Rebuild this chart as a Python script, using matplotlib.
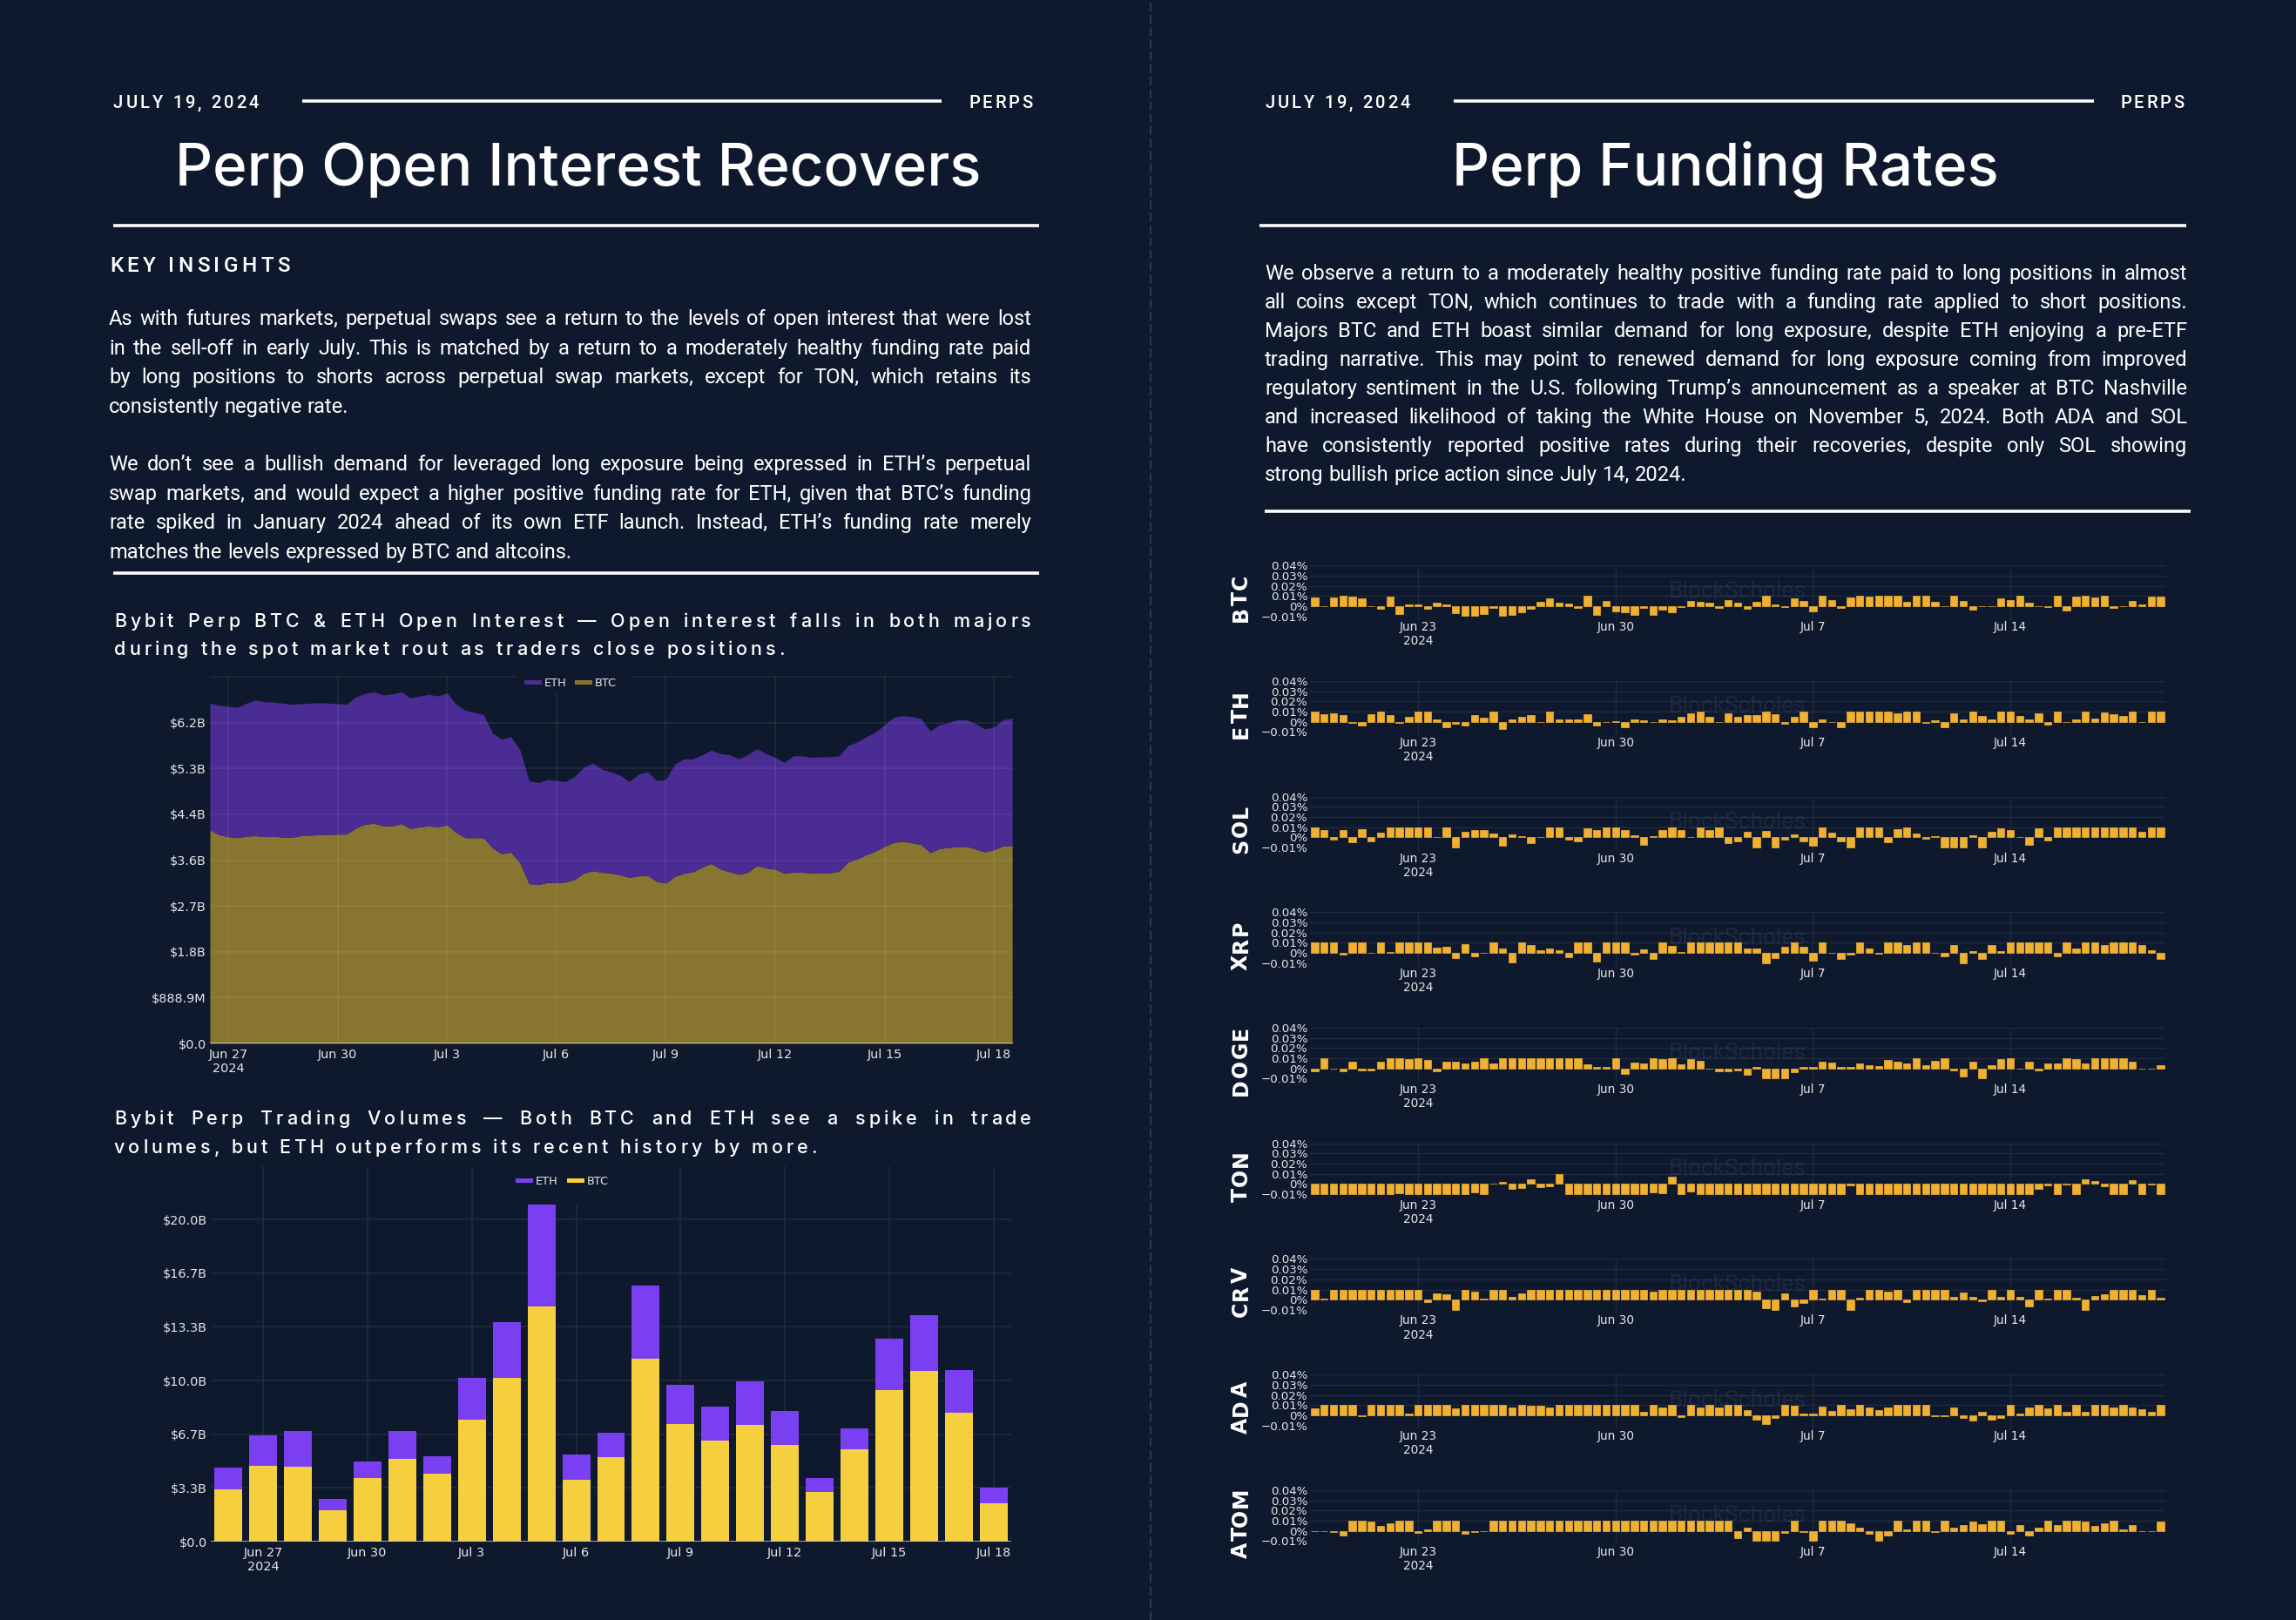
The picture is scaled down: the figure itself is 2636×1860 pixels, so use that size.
import matplotlib
matplotlib.use('Agg')
import matplotlib.pyplot as plt
from matplotlib import font_manager as fm
from matplotlib.font_manager import FontProperties
from matplotlib.patches import Rectangle
from matplotlib.lines import Line2D
import numpy as np
import pandas as pd

W, H, DPI = 2636, 1860, 100

# ---------------- DATA ----------------
# Bybit perp open interest (billions USD), 6-hourly from the start time
oi_start = "2024-06-26 12:00"
oi_step = "6h"
btc_oi_bn = [4.14, 4.05, 4.01, 3.99, 4.02, 4.03, 4.01, 4.02, 4.00, 4.00,
             4.03, 4.04, 4.05, 4.05, 4.06, 4.06, 4.18, 4.25, 4.27, 4.22,
             4.22, 4.26, 4.17, 4.20, 4.22, 4.20, 4.24, 4.09, 3.99, 3.99,
             3.99, 3.79, 3.68, 3.71, 3.50, 3.10, 3.08, 3.12, 3.12, 3.13,
             3.18, 3.30, 3.35, 3.32, 3.30, 3.27, 3.22, 3.25, 3.26, 3.14,
             3.11, 3.24, 3.30, 3.33, 3.42, 3.49, 3.38, 3.33, 3.28, 3.32,
             3.45, 3.40, 3.38, 3.30, 3.32, 3.32, 3.30, 3.31, 3.31, 3.34,
             3.52, 3.58, 3.66, 3.73, 3.82, 3.90, 3.92, 3.89, 3.86, 3.70,
             3.78, 3.80, 3.82, 3.82, 3.77, 3.71, 3.76, 3.83, 3.84]
eth_oi_bn = [2.46, 2.51, 2.53, 2.53, 2.58, 2.63, 2.62, 2.60, 2.60, 2.58,
             2.56, 2.56, 2.56, 2.55, 2.53, 2.52, 2.54, 2.54, 2.55, 2.54,
             2.56, 2.56, 2.53, 2.54, 2.55, 2.54, 2.56, 2.49, 2.47, 2.43,
             2.39, 2.23, 2.22, 2.24, 2.20, 2.00, 1.98, 2.00, 1.98, 1.95,
             2.00, 2.06, 2.09, 2.00, 1.97, 1.93, 1.86, 1.97, 2.01, 1.96,
             2.01, 2.18, 2.22, 2.19, 2.18, 2.20, 2.24, 2.27, 2.24, 2.28,
             2.27, 2.22, 2.17, 2.15, 2.26, 2.26, 2.25, 2.25, 2.25, 2.24,
             2.26, 2.27, 2.29, 2.31, 2.36, 2.43, 2.44, 2.45, 2.44, 2.36,
             2.40, 2.42, 2.46, 2.46, 2.43, 2.39, 2.38, 2.45, 2.47]

# Bybit perp daily trading volumes (billions USD)
vol_dates = ["2024-06-26", "2024-06-27", "2024-06-28", "2024-06-29", "2024-06-30",
             "2024-07-01", "2024-07-02", "2024-07-03", "2024-07-04", "2024-07-05",
             "2024-07-06", "2024-07-07", "2024-07-08", "2024-07-09", "2024-07-10",
             "2024-07-11", "2024-07-12", "2024-07-13", "2024-07-14", "2024-07-15",
             "2024-07-16", "2024-07-17", "2024-07-18"]
btc_vol_bn = [3.25, 4.69, 4.66, 1.93, 3.94, 5.16, 4.19, 7.55, 10.16, 14.58, 3.86, 5.27,
              11.34, 7.31, 6.28, 7.22, 5.99, 3.07, 5.74, 9.39, 10.61, 8.00, 2.38]
eth_vol_bn = [1.35, 1.90, 2.20, 0.72, 1.02, 1.70, 1.10, 2.59, 3.47, 6.39, 1.56, 1.50,
              4.58, 2.40, 2.08, 2.71, 2.10, 0.90, 1.30, 3.21, 3.47, 2.65, 0.96]

# Perp funding rates, 8-hourly, units of 0.001 %
fund_start = "2024-06-19 08:00"
fund_step = "8h"
coins = ["BTC", "ETH", "SOL", "XRP", "DOGE", "TON", "CRV", "ADA", "ATOM"]
fund_btc = [8.6, 0, 8.6, 10, 9.4, 7.5, 0, -3, 9, -8, 1.5, 1.5, -2.5, 3.5, 2, -6.5, -9.7, -9.7, -8, -2,
            -9.7, -9, -6, -2.5, 4.5, 8, 3.5, 2.3, -2, 10, -9, 5, -5, -6, -9, -1.5, -9, -3.5, -6, -0.5,
            5, 4.3, 3.5, -2, 5.7, 3.5, -3, 4.5, 10, 1.7, -1, 7.5, 5, -5, 10, 6, -2, 8.6, 10, 9.4,
            10, 10, 10, 4.3, 10, 10, 4.3, 0.3, 10, 5, -3.5, 0, 0, 8, 5.7, 10, 3, 0, -0.5, 10,
            -4, 9, 10, 8.6, 10, -2, 0.3, 5, 1.5, 9.4, 9.4]
fund_eth = [10, 7.5, 8, 6.5, -1, -4, 7.5, 10, 7, -1, 5, 10, 10, 2, -5.5, -2, -4, 6.5, 3.7, 10,
            -7.5, 2.3, 4.5, 6.5, 0, 10, 2, 2, 2.3, 7.5, -4, 0, 1, -5.5, 2.5, 1.2, 0, 2, 1.2, 5,
            8.5, 10, 5, 0, 8, 4.5, 7, 7, 10, 7.5, -1.7, 5, 10, -5, 2, -0.5, -5, 10, 10, 10,
            10, 10, 8.5, 10, 10, -1, 1.2, -5, 8, 2, 10, 5.5, 2, 10, 10, 5.5, 2, 8, -3, 10,
            -0.5, 2, 10, 3, 9, 7.5, 6, 10, 0, 10, 10]
fund_sol = [10, 7, -2.3, 7.5, -4.5, 8, -4, 4.5, 10, 10, 10, 10, 10, 0, 10, -9.7, 5.5, 7, 7, 3.5,
            -8, 2.5, 1.2, -6, 0, 10, 10, -2.3, -4, 9, 7.5, 10, 10, 7, 2, -7, 1.2, 7, 10, 7,
            0, 10, 7.5, 10, -6, -4, 5.5, -9.7, 6, -9.7, -2.5, 2.5, -4, -8.5, 10, 4.5, -4, -9.7, 10, 10,
            10, -5, 8, 10, 3.5, -1, 1, -9.7, -9.7, -9.7, 1.7, -9.7, 5.5, 8.5, 7, 0, -7.5, 9, -3, 10,
            10, 10, 10, 10, 10, 10, 10, 10, 5.5, 10, 10]
fund_xrp = [10, 10, 10, -2, 10, 10, 0, 10, 1, 10, 10, 10, 10, 5, 6, -5, 9, -3.3, 0, 10,
            4.7, -9, 10, 7.5, 2.6, 4.5, 2.6, -4, 10, 10, -8.5, 10, 10, 10, -2, 3.8, -6, 10, 6.8, 1.2,
            10, 10, 10, 10, 10, 10, 4.5, 4.5, -10, -5, 6, 10, 6, -8, 10, 0.5, -5.5, -2, 10, 4.5,
            -1, 10, 10, 7.5, 10, 10, 0.5, -3.3, 7.5, -10, 2, -6, 7.5, 2, 10, 10, 10, 10, 10, -3.3,
            10, 4, 10, 10, 7.5, 10, 10, 10, 7.5, 2.6, -6]
fund_doge = [-3, 10, 0, -3, 7, -1.5, -1.5, 6.5, 10, 10, 9, 10, 8, -3, 7, 6.5, 5.3, 7, 10, 5.3,
             10, 10, 10, 10, 10, 10, 10, 10, 10, 4, 1.7, 1.7, 10, -5.3, 6, 4.7, 10, 9, 10, 4,
             9, 7.6, -0.6, -3, -3, -1.5, -6, 1.7, -10, -10, -10, -4, 1.2, 1.7, 6.5, 6, 1.7, 1.7, 4.7, 3,
             2.4, 8, 7, 4.7, 10, 3, 7.6, 10, -1.8, -8, 6.5, -10, 3, 9, 10, 0, 7, -1.8, 5.3, 5.3,
             10, 9, 5.3, 10, 10, 10, 10, 6.5, 0, 0, 3]
fund_ton = [-10, -10, -10, -10, -10, -10, -10, -10, -10, -9, -10, -10, -10, -10, -10, -10, -10, -8, -10, 0.5,
            2, -5, -4, 5, -3, -2, 10, -10, -10, -10, -10, -10, -10, -10, -10, -10, -8, -9, 7, -10,
            -7, -10, -10, -10, -10, -10, -10, -10, -10, -10, -10, -10, -10, -10, -10, -10, -10, -1, -10, -10,
            -10, -10, -10, -10, -10, -10, -10, -10, -10, -10, -10, -10, -10, -10, -10, -10, -10, -4.5, -1.5, -10,
            -0.7, -10, 5, 3.3, -2, -10, -10, 4, -10, -0.3, -10]
fund_crv = [10, 1, 10, 10, 10, 10, 10, 10, 10, 10, 10, 10, -2, 6, 5, -9.7, 10, 8, 1, 10,
            10, 2.5, 6, 10, 10, 10, 10, 10, 10, 10, 10, 10, 10, 10, 10, 10, 8, 10, 10, 10,
            10, 10, 10, 10, 10, 10, 10, 8, -8, -9.7, 6, -7, -3.5, 10, 1, 10, 10, -9.7, 2, 10,
            10, 8, 10, -2, 10, 10, 10, 10, 2.5, 7, 2.5, -1.2, 10, 2.5, 10, 2.5, -7, 10, 1.2, 10,
            10, 2, -9.7, 3.5, 5, 10, 10, 10, 4.5, 10, 2]
fund_ada = [6.5, 10, 10, 10, 10, -1.2, 10, 10, 10, 10, 1.2, 10, 10, 10, 10, 6.5, 10, 10, 10, 10,
            10, 7.5, 10, 9, 9, 8, 10, 10, 10, 10, 10, 10, 10, 10, 10, 3, 10, 8, 10, -1.5,
            10, 8, 10, 8, 10, 10, 5, -4, -9, -3, 10, 9, 1.2, 1.2, 8.5, 4.2, 10, 6, 10, 8,
            5, 8, 10, 10, 10, 10, -1.2, -1.2, 8, -2.5, -5, 3.5, -4, -2.5, 10, 1.2, 8, 10, 6.5, 10,
            3.5, 10, 3.5, 10, 10, 8, 10, 8, 6, 3, 10]
fund_atom = [0, 0, -1, -5, 10, 10, 9, 5, 7, 10, 10, -2, 1.5, 10, 10, 10, -3.3, -1.5, 0, 10,
             10, 10, 10, 10, 10, 10, 10, 10, 10, 10, 10, 10, 10, 10, 10, 10, 10, 10, 10, 10,
             10, 10, 10, 10, 10, -7, 3.3, -9.5, -9.5, -9.5, -2, 10, -1, -9.5, 10, 10, 10, 7.5, 3.5, -3.3,
             -9.5, -5, 10, 1.5, 10, 10, -1.2, 10, 2.7, 6, 9, 6.5, 10, 10, -2.7, 5.5, -4.5, 2.7, 10, 6,
             10, 10, 9, 5, 7, 10, 1.5, 6, 0, 0, 9]
fund_rates = dict(zip(coins, [fund_btc, fund_eth, fund_sol, fund_xrp, fund_doge,
                              fund_ton, fund_crv, fund_ada, fund_atom]))

# ---------------- TEXT ----------------
date_text = "JULY 19, 2024"
section_text = "PERPS"
title_left = "Perp Open Interest Recovers"
title_right = "Perp Funding Rates"
key_insights = "KEY INSIGHTS"
para_left_1 = [
    "As with futures markets, perpetual swaps see a return to the levels of open interest that were lost",
    "in the sell-off in early July. This is matched by a return to a moderately healthy funding rate paid",
    "by long positions to shorts across perpetual swap markets, except for TON, which retains its",
    "consistently negative rate.",
]
para_left_2 = [
    "We don\u2019t see a bullish demand for leveraged long exposure being expressed in ETH\u2019s perpetual",
    "swap markets, and would expect a higher positive funding rate for ETH, given that BTC\u2019s funding",
    "rate spiked in January 2024 ahead of its own ETF launch. Instead, ETH\u2019s funding rate merely",
    "matches the levels expressed by BTC and altcoins.",
]
para_right = [
    "We observe a return to a moderately healthy positive funding rate paid to long positions in almost",
    "all coins except TON, which continues to trade with a funding rate applied to short positions.",
    "Majors BTC and ETH boast similar demand for long exposure, despite ETH enjoying a pre-ETF",
    "trading narrative. This may point to renewed demand for long exposure coming from improved",
    "regulatory sentiment in the U.S. following Trump\u2019s announcement as a speaker at BTC Nashville",
    "and increased likelihood of taking the White House on November 5, 2024. Both ADA and SOL",
    "have consistently reported positive rates during their recoveries, despite only SOL showing",
    "strong bullish price action since July 14, 2024.",
]
cap1_line1 = "Bybit Perp BTC & ETH Open Interest \u2014 Open interest falls in both majors"
cap1_line2 = "during the spot market rout as traders close positions."
cap2_line1 = "Bybit Perp Trading Volumes \u2014 Both BTC and ETH see a spike in trade"
cap2_line2 = "volumes, but ETH outperforms its recent history by more."

# ---------------- STYLE ----------------
BG = '#0f192d'
GRID = '#1f2a40'
GRID_OVER = (1, 1, 1, 0.07)
TXT = '#ffffff'
TICK = '#e6e6e6'
ETH_AREA = '#4a2c94'
BTC_AREA = '#877530'
ETH_BAR = '#7b3ff2'
BTC_BAR = '#f6cf3e'
FUND = '#f0b132'

avail = {f.name for f in fm.fontManager.ttflist}


def pick(*names):
    for n in names:
        if n in avail:
            return n
    return 'DejaVu Sans'


BODY = pick('Roboto', 'Inter', 'Open Sans', 'Liberation Sans')
TITLE = pick('Inter', 'Roboto', 'Open Sans')
CAPF = pick('Inter', 'Roboto', 'Open Sans')
TICKF = 'DejaVu Sans'
plt.rcParams['font.family'] = [TICKF]

fig = plt.figure(figsize=(W / DPI, H / DPI), dpi=DPI)
fig.patch.set_facecolor(BG)
R = fig.canvas.get_renderer()


def fp(family=BODY, size=12, weight='normal'):
    return FontProperties(family=[family, 'DejaVu Sans'], size=size, weight=weight)


def tw(s, prop):
    if not s:
        return 0.0
    w, h, d = R.get_text_width_height_descent(s, prop, ismath=False)
    return w


def adv(s, prop):
    if not s:
        return 0.0
    return tw(s + 'n', prop) - tw('n', prop)


def space_w(prop):
    return tw('n n', prop) - tw('nn', prop)


def tracked_width(s, prop, tr):
    if tr == 0:
        return tw(s, prop)
    return adv(s[:-1], prop) + tw(s[-1], prop) + tr * (len(s) - 1)


def put(x, yb, s, prop, color, ha='left', **kw):
    return fig.text(x / W, 1 - yb / H, s, fontproperties=prop, color=color,
                    ha=ha, va='baseline', **kw)


def draw_tracked(x, yb, s, prop, color, tr):
    if tr == 0:
        put(x, yb, s, prop, color)
        return
    for i, ch in enumerate(s):
        if ch.strip():
            put(x + adv(s[:i], prop) + i * tr, yb, ch, prop, color)


def natural_width(tokens, tr=0):
    ws = [tracked_width(w, p, tr) for w, p in tokens]
    gap = space_w(tokens[0][1]) + 2 * tr
    return sum(ws) + gap * (len(tokens) - 1)


def draw_tokens(x0, yb, tokens, color, tr=0, width=None):
    ws = [tracked_width(w, p, tr) for w, p in tokens]
    if width is not None and len(tokens) > 1:
        gap = (width - sum(ws)) / (len(tokens) - 1)
    else:
        gap = space_w(tokens[0][1]) + 2 * tr
    x = x0
    for (w, p), ww in zip(tokens, ws):
        draw_tracked(x, yb, w, p, color, tr)
        x += ww + gap


def paragraph(x0, x1, baselines, lines, prop, color=TXT):
    for i, (yb, line) in enumerate(zip(baselines, lines)):
        toks = [(w, prop) for w in line.split(' ')]
        last = i == len(lines) - 1
        draw_tokens(x0, yb, toks, color, width=None if last else x1 - x0)


def tracked_to_width(x, yb, s, prop, color, target, ha='left'):
    nat = tracked_width(s, prop, 0.0001) if len(s) > 1 else tw(s, prop)
    tr = max(0.0, (target - nat) / max(1, len(s) - 1))
    wdt = tracked_width(s, prop, tr) if tr > 0 else tw(s, prop)
    if ha == 'right':
        x = x - wdt
    draw_tracked(x, yb, s, prop, color, tr if tr > 0 else 0)


def hline(x0, x1, y, lw_px=3.6, color=TXT):
    fig.add_artist(Line2D([x0 / W, x1 / W], [1 - y / H] * 2, color=color,
                          lw=lw_px * 72 / DPI, solid_capstyle='butt'))


def frect(x0, y0, x1, y1):
    return [x0 / W, 1 - y1 / H, (x1 - x0) / W, (y1 - y0) / H]


# ---------------- HEADERS ----------------
hdr = fp(BODY, 14.5, 'medium')
for (xd, xl0, xl1, xr) in [(130, 347, 1081, 1186), (1452, 1669, 2404, 2508)]:
    tracked_to_width(xd, 124.5, date_text, hdr, TXT, 167)
    hline(xl0, xl1, 116.5)
    tracked_to_width(xr, 124.5, section_text, hdr, TXT, 74, ha='right')

# titles: size chosen so the left title spans ~926 px
t0 = fp(TITLE, 46, 'medium')
tsize = 46 * 926 / tw(title_left, t0)
tsize = min(tsize, 54)
tprop = fp(TITLE, tsize, 'medium')
put(664, 213, title_left, tprop, TXT, ha='center')
put(1981, 213, title_right, tprop, TXT, ha='center')
hline(130, 1193, 259)
hline(1446, 2510, 259.5)

tracked_to_width(126, 312.5, key_insights, fp(BODY, 17.5, 'medium'), TXT, 207)

# body paragraphs: fit font size so natural widths fit
bsize = 17.0
while bsize > 10:
    bp = fp(BODY, bsize)
    ok = True
    for lines, width in [(para_left_1[:-1] + para_left_2[:-1], 1184 - 125),
                         (para_right[:-1], 2511 - 1452)]:
        for l in lines:
            if natural_width([(w, bp) for w in l.split(' ')]) > width * 0.995:
                ok = False
    if ok:
        break
    bsize -= 0.25
bp = fp(BODY, bsize)
paragraph(125, 1184, [373 + 33.6 * i for i in range(4)], para_left_1, bp)
paragraph(125, 1184, [540 + 33.6 * i for i in range(4)], para_left_2, bp)
hline(130, 1193, 658)
paragraph(1452, 2511, [321 + 33.0 * i for i in range(8)], para_right, bp)
hline(1452, 2515, 587)

# separator
fig.add_artist(Line2D([1321 / W] * 2, [0, 1], color='#3a4254', lw=1.1,
                      linestyle=(0, (6.5, 2.8))))

# captions (letter-spaced; tracking set from second line width, first line justified)
cap_reg = fp(CAPF, 15.5, 'medium')


def solve_tracking(toks, target):
    lo, hi = 0.0, 8.0
    for _ in range(25):
        mid = (lo + hi) / 2
        if natural_width(toks, mid) > target:
            hi = mid
        else:
            lo = mid
    return lo


def caption(y1, line1, line2, line2_width):
    toks1 = [(w, cap_reg) for w in line1.split(' ')]
    toks2 = [(w, cap_reg) for w in line2.split(' ')]
    target = 1184 - 131
    tr = min(solve_tracking(toks2, line2_width), solve_tracking(toks1, target))
    draw_tokens(131, y1, toks1, TXT, tr=tr, width=target)
    draw_tokens(131, y1 + 32.5, toks2, TXT, tr=tr)


caption(720, cap1_line1, cap1_line2, 770)
caption(1291, cap2_line1, cap2_line2, 807)

tick_size = 10.4


def money(v):
    if abs(v) < 1e-9:
        return "$0.0"
    if v < 1:
        return f"${v * 1000:.1f}M"
    return f"${v:.1f}B"


def date_labels(dates, first_year=True):
    labs = [f"{d.strftime('%b')} {d.day}" for d in dates]
    if first_year:
        labs[0] += "\n2024"
    return labs


def legend(x_eth, x_btc, y, bg_box, c_eth, c_btc):
    bx0, by0, bx1, by1 = bg_box
    fig.add_artist(Rectangle((bx0 / W, 1 - by1 / H), (bx1 - bx0) / W, (by1 - by0) / H,
                             transform=fig.transFigure, facecolor=BG, edgecolor='none', zorder=5))
    lp = fp(TICKF, 9.3)
    for x, c, name in [(x_eth, c_eth, 'ETH'), (x_btc, c_btc, 'BTC')]:
        fig.add_artist(Rectangle((x / W, 1 - (y + 2.5) / H), 20 / W, 5 / H,
                                 transform=fig.transFigure, facecolor=c, edgecolor='none', zorder=6))
        t = put(x + 23, y + 5, name, lp, TICK)
        t.set_zorder(6)


# ---------------- OPEN INTEREST AREA CHART ----------------
ax1 = fig.add_axes(frect(241, 776, 1163, 1198))
ax1.set_facecolor('none')
t_oi = pd.date_range(oi_start, periods=len(btc_oi_bn), freq=oi_step)
btc_oi = np.array(btc_oi_bn)
eth_oi = np.array(eth_oi_bn)
ax1.fill_between(t_oi, 0, btc_oi, color=BTC_AREA, lw=0, zorder=2)
ax1.fill_between(t_oi, btc_oi, btc_oi + eth_oi, color=ETH_AREA, lw=0, zorder=2)
ax1.set_xlim(pd.Timestamp("2024-06-26 12:00"), pd.Timestamp("2024-07-18 12:30"))
ax1.set_ylim(0, 7.13)
oi_ticks = [k * 8 / 9 for k in range(8)]
ax1.set_yticks(oi_ticks)
ax1.set_yticklabels([money(v) for v in oi_ticks])
xt = pd.date_range("2024-06-27", periods=8, freq="3D")
ax1.set_xticks(xt)
ax1.set_xticklabels(date_labels(xt))
for v in oi_ticks[1:] + [8 * 8 / 9]:
    ax1.axhline(v, color=GRID_OVER, lw=1.2, zorder=3)
for d in xt:
    ax1.axvline(d, color=GRID_OVER, lw=1.2, zorder=3)
ax1.axhline(0, color='#d9d4b6', lw=1.8, zorder=4)
ax1.tick_params(length=0, colors=TICK, labelsize=tick_size)
ax1.tick_params(axis='y', pad=3)
ax1.tick_params(axis='x', pad=4)
for s in ax1.spines.values():
    s.set_visible(False)
legend(602, 660, 783, (593, 768, 726, 795), ETH_AREA, BTC_AREA)

# ---------------- VOLUME BAR CHART ----------------
ax2 = fig.add_axes(frect(242, 1339, 1161, 1770))
ax2.set_facecolor('none')
vd = pd.to_datetime(vol_dates)
btc_v = np.array(btc_vol_bn)
eth_v = np.array(eth_vol_bn)
ax2.bar(vd, btc_v, width=0.8, color=BTC_BAR, zorder=2, lw=0)
ax2.bar(vd, eth_v, bottom=btc_v, width=0.8, color=ETH_BAR, zorder=2, lw=0)
ax2.set_xlim(pd.Timestamp("2024-06-25 12:00"), pd.Timestamp("2024-07-18 12:00"))
ax2.set_ylim(0, 23.3)
v_ticks = [k * 10 / 3 for k in range(7)]
ax2.set_yticks(v_ticks)
ax2.set_yticklabels([money(v) for v in v_ticks])
ax2.set_xticks(xt)
ax2.set_xticklabels(date_labels(xt))
for v in v_ticks[1:]:
    ax2.axhline(v, color=GRID, lw=1.2, zorder=1)
for d in xt:
    ax2.axvline(d, color=GRID, lw=1.2, zorder=1)
ax2.axhline(0, color='#cfd0d4', lw=1.8, zorder=4)
ax2.tick_params(length=0, colors=TICK, labelsize=tick_size)
ax2.tick_params(axis='y', pad=3)
ax2.tick_params(axis='x', pad=4)
for s in ax2.spines.values():
    s.set_visible(False)
legend(592, 651, 1355, (586, 1336, 706, 1383), ETH_BAR, BTC_BAR)

# ---------------- FUNDING RATE PANELS ----------------
t_f = pd.date_range(fund_start, periods=len(fund_btc), freq=fund_step)
f_ticks = [-10, 0, 10, 20, 30, 40]
f_labels = ["\u22120.01%", "0%", "0.01%", "0.02%", "0.03%", "0.04%"]
ft = pd.to_datetime(["2024-06-23", "2024-06-30", "2024-07-07", "2024-07-14"])
coin_prop = fp(TICKF, 17.0, 'bold')
btc_nat = tracked_width("BTC", coin_prop, 0.0001)
coin_tr = min(8.0, max(0.0, (55 - btc_nat) / 2))
for k, coin in enumerate(coins):
    zy = 696 + 132.7 * k
    ax = fig.add_axes(frect(1504, zy - 46.7, 2486, zy + 15.75))
    ax.set_facecolor('none')
    vals = np.array(fund_rates[coin], dtype=float)
    ax.bar(t_f, vals, width=0.26, color=FUND, edgecolor=FUND, lw=0.5, zorder=2)
    ax.set_xlim(pd.Timestamp("2024-06-19 04:00"), pd.Timestamp("2024-07-19 12:00"))
    ax.set_ylim(-13.5, 40)
    ax.set_yticks(f_ticks)
    ax.set_yticklabels(f_labels)
    ax.set_xticks(ft)
    ax.set_xticklabels(date_labels(ft))
    for v in [10, 20, 30, 40]:
        ax.axhline(v, color=GRID, lw=1.0, zorder=1)
    for d in ft:
        ax.axvline(d, color=GRID, lw=1.0, zorder=1)
    ax.tick_params(length=0, colors=TICK)
    ax.tick_params(axis='y', pad=2, labelsize=9.6)
    ax.tick_params(axis='x', pad=1, labelsize=9.8)
    for lbl in ax.get_xticklabels():
        lbl.set_linespacing(1.2)
    for s in ax.spines.values():
        s.set_visible(False)
    ax.text(0.5, 0.53, "BlockScholes", transform=ax.transAxes, ha='center', va='center',
            fontsize=19, color=(0.6, 0.65, 0.75, 0.10), zorder=3,
            fontfamily=[BODY, 'DejaVu Sans'])
    # rotated, letter-spaced coin label
    yc = zy - 9
    xc = 1425
    nat = adv(coin[:-1], coin_prop) + tw(coin[-1], coin_prop)
    L = nat + coin_tr * (len(coin) - 1)
    ybot = yc + L / 2
    for i, ch in enumerate(coin):
        c = ybot - (adv(coin[:i], coin_prop) + i * coin_tr + tw(ch, coin_prop) / 2)
        fig.text(xc / W, 1 - c / H, ch, rotation=90, ha='center', va='center',
                 fontproperties=coin_prop, color=TXT)

fig.savefig("out.png", dpi=DPI, facecolor=BG)
